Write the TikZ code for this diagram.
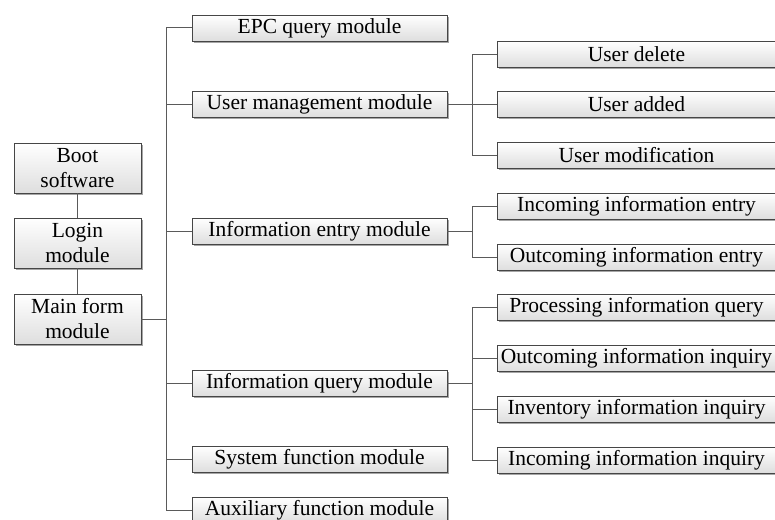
\documentclass[tikz,border=0pt]{standalone}
\usepackage{fontspec}
\setmainfont{Liberation Serif}
\usetikzlibrary{shadows}
\definecolor{boxline}{RGB}{70,70,70}
\definecolor{conline}{RGB}{90,90,90}
\definecolor{shadetop}{RGB}{255,255,255}
\definecolor{shadebot}{RGB}{222,222,222}
\tikzset{
  box/.style={draw=boxline, line width=0.9pt, top color=shadetop, bottom color=shadebot,
    inner sep=0pt, align=center, font=\fontsize{21.5}{25}\selectfont,
    drop shadow={shadow xshift=1.6pt, shadow yshift=-1.6pt, fill=black, opacity=0.35}},
  leftbox/.style={box, minimum width=127pt, minimum height=50pt},
  midbox/.style={box, minimum width=255pt, minimum height=26pt},
  rightbox/.style={box, minimum width=279pt, minimum height=26pt},
  con/.style={draw=conline, line width=1pt}
}
\begin{document}
\begin{tikzpicture}[x=1pt,y=-1pt]
\useasboundingbox (0,0) rectangle (775,519);
\clip (0,0) rectangle (775,519);
\fill[white] (0,0) rectangle (775,519);
% left column
\node[leftbox] (boot) at (77.5,168) {Boot\\software};
\node[leftbox] (login) at (77.5,243) {Login\\module};
\node[leftbox] (main) at (77.5,319) {Main form\\module};
% middle column
\node[midbox] (epc) at (319.5,28) {EPC query module};
\node[midbox] (user) at (319.5,104) {User management module};
\node[midbox] (entry) at (319.5,231) {Information entry module};
\node[midbox] (query) at (319.5,383) {Information query module};
\node[midbox] (sys) at (319.5,459) {System function module};
\node[midbox] (aux) at (319.5,510) {Auxiliary function module};
% right column
\node[rightbox] (udel) at (636.5,54) {User delete};
\node[rightbox] (uadd) at (636.5,104) {User added};
\node[rightbox] (umod) at (636.5,155) {User modification};
\node[rightbox] (inent) at (636.5,206) {Incoming information entry};
\node[rightbox] (outent) at (636.5,257) {Outcoming information entry};
\node[rightbox] (proc) at (636.5,307) {Processing information query};
\node[rightbox] (outinq) at (636.5,358) {Outcoming information inquiry};
\node[rightbox] (inv) at (636.5,409) {Inventory information inquiry};
\node[rightbox] (ininq) at (636.5,460) {Incoming information inquiry};
% trunk coordinates
\coordinate (t1) at (166,28);
\coordinate (t2) at (166,510);
\coordinate (tm) at (166,319);
% connectors left column
\draw[con] (boot) -- (login);
\draw[con] (login) -- (main);
\draw[con] (main.east) -- (tm);
\draw[con] (epc.west) -- (t1) -- (t2) -- (aux.west);
\foreach \n in {user,entry,query,sys} {\draw[con] (\n.west) -- (\n.west -| tm);}
% user sub-tree
\coordinate (ua) at (472,54);
\coordinate (ub) at (472,155);
\draw[con] (user.east) -- (uadd.west);
\draw[con] (udel.west) -- (ua) -- (ub) -- (umod.west);
% entry sub-tree
\coordinate (ea) at (472,206);
\coordinate (eb) at (472,257);
\draw[con] (inent.west) -- (ea) -- (eb) -- (outent.west);
\draw[con] (entry.east) -- (entry.east -| ea);
% query sub-tree
\coordinate (qa) at (472,307);
\coordinate (qb) at (472,460);
\draw[con] (proc.west) -- (qa) -- (qb) -- (ininq.west);
\draw[con] (outinq.west) -- (outinq.west -| qa);
\draw[con] (inv.west) -- (inv.west -| qa);
\draw[con] (query.east) -- (query.east -| qa);
\end{tikzpicture}
\end{document}
